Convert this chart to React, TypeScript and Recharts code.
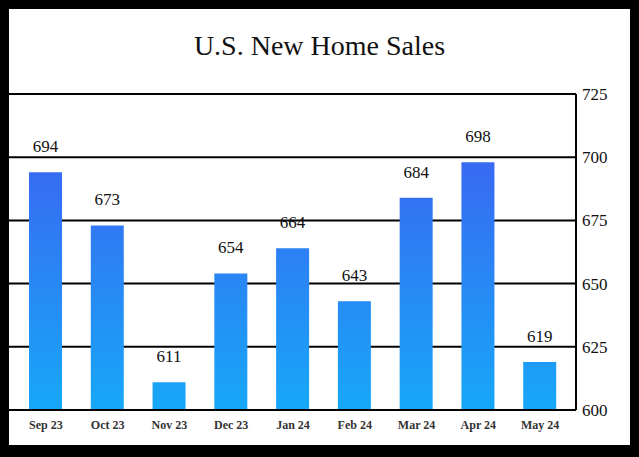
import { BarChart, Bar, XAxis, YAxis, CartesianGrid, LabelList } from 'recharts';

const months = ['Sep 23', 'Oct 23', 'Nov 23', 'Dec 23', 'Jan 24', 'Feb 24', 'Mar 24', 'Apr 24', 'May 24'];
const sales = [694, 673, 611, 654, 664, 643, 684, 698, 619];
const yTicks = [600, 625, 650, 675, 700, 725];

const data = months.map((month, i) => ({ month, sales: sales[i] }));

const SERIF = '"Liberation Serif", "DejaVu Serif", serif';

export default function App() {
  return (
    <div
      style={{
        position: 'fixed',
        left: 0,
        top: 0,
        width: 639,
        height: 457,
        background: '#000',
      }}
    >
      <div
        style={{
          position: 'absolute',
          left: 9,
          top: 9,
          width: 621,
          height: 436,
          background: '#fff',
        }}
      >
        <div
          style={{
            position: 'absolute',
            left: 0,
            top: 21,
            width: '100%',
            textAlign: 'center',
            fontFamily: SERIF,
            fontSize: 28,
            color: '#111',
          }}
        >
          U.S. New Home Sales
        </div>
        <BarChart
          width={621}
          height={436}
          data={data}
          margin={{ top: 85, right: 10, bottom: 10, left: 0 }}
          barCategoryGap={0}
        >
          <defs>
            <linearGradient id="barFill" gradientUnits="userSpaceOnUse" x1="0" y1="85" x2="0" y2="401">
              <stop offset="0%" stopColor="#4158f0" />
              <stop offset="100%" stopColor="#17a8f8" />
            </linearGradient>
          </defs>
          <CartesianGrid vertical={false} stroke="#000" strokeWidth={2} strokeOpacity={1} />
          <XAxis
            dataKey="month"
            padding={{ left: 6, right: 5 }}
            axisLine={{ stroke: '#000', strokeWidth: 2 }}
            tickLine={false}
            tickMargin={4}
            height={25}
            tick={{ fill: '#333', fontSize: 12, fontWeight: 'bold', fontFamily: SERIF }}
          />
          <YAxis
            orientation="right"
            domain={[600, 725]}
            ticks={yTicks}
            width={44}
            axisLine={{ stroke: '#000', strokeWidth: 2 }}
            tickLine={false}
            tickMargin={0}
            interval={0}
            tick={{ fill: '#111', fontSize: 17, fontFamily: SERIF }}
          />
          <Bar dataKey="sales" fill="url(#barFill)" barSize={33} isAnimationActive={false}>
            <LabelList
              dataKey="sales"
              position="top"
              offset={20}
              style={{ fill: '#111', fontSize: 17, fontFamily: SERIF }}
            />
          </Bar>
        </BarChart>
      </div>
    </div>
  );
}
